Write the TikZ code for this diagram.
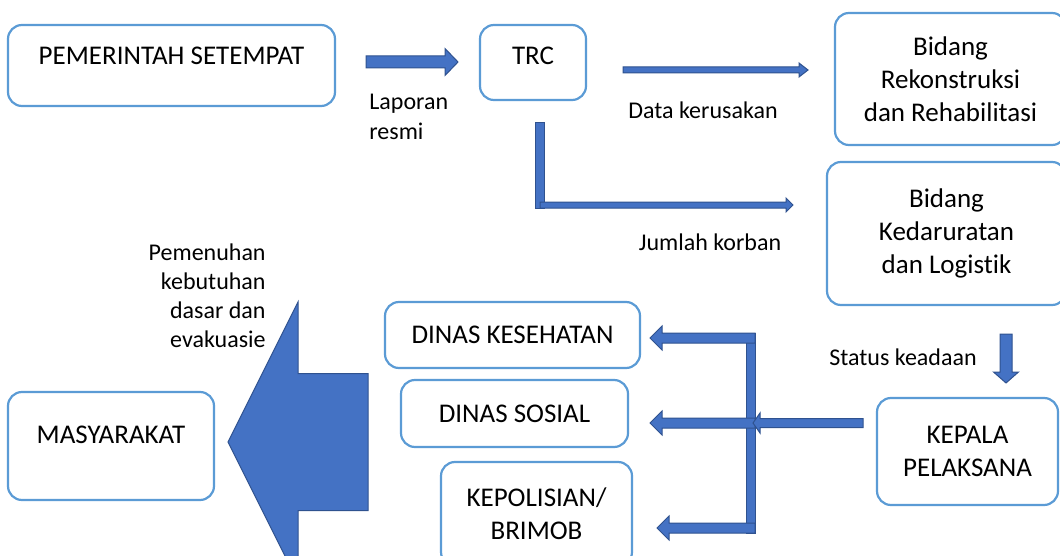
\documentclass[tikz,border=0pt]{standalone}
\usepackage{fontspec}
\setmainfont{Carlito}[Ligatures=CommonOff]
\usetikzlibrary{calc,positioning}
\definecolor{boxline}{HTML}{5B9BD5}
\definecolor{arrfill}{HTML}{4472C4}
\definecolor{arrline}{HTML}{2F528F}
\tikzset{
    unit/.style={draw=boxline, line width=1.1pt, rounded corners=7pt, align=center, inner sep=2pt,
        font=\fontsize{13.5}{16.5}\selectfont},
    blk/.style={draw=arrline, fill=arrfill, line width=0.5pt, line join=miter},
    lbl/.style={align=center, inner sep=0pt}
}
% block arrow: start, tip, half shaft, half head, head length
\newcommand{\blkarrow}[5]{%
    \coordinate (hb) at ($(#2)!#5!(#1)$);
    \draw[blk] ($(#1)!#3!90:(#2)$) -- ($(hb)!#3!90:(#2)$) -- ($(hb)!#4!90:(#2)$) -- (#2)
        -- ($(hb)!#4!-90:(#2)$) -- ($(hb)!#3!-90:(#2)$) -- ($(#1)!#3!-90:(#2)$) -- cycle;
}

\begin{document}
\begin{tikzpicture}[x=0.5pt, y=-0.5pt, font=\fontsize{12}{15}\selectfont]
    \useasboundingbox (0,0) rectangle (1060,556);

    \node[unit, minimum width=163.5pt, minimum height=40.5pt, text depth=9.5pt] (pem) at (171.5,65.5) {PEMERINTAH SETEMPAT};
    \node[unit, minimum width=53pt, minimum height=37.5pt, text depth=7pt] (trc) at (533,62.5) {TRC};
    \node[unit, minimum width=115.5pt, minimum height=66pt] (rek) at (950.5,79) {Bidang\\Rekonstruksi\\dan Rehabilitasi};
    \node[unit, minimum width=119.5pt, minimum height=71.5pt] (kdr) at (946.5,233.5) {Bidang\\Kedaruratan\\dan Logistik};
    \node[unit, minimum width=90.5pt, minimum height=53.5pt] (kep) at (967.5,451.5) {KEPALA\\PELAKSANA};
    \node[unit, minimum width=127.5pt, minimum height=33pt] (kes) at (512.5,335) {DINAS KESEHATAN};
    \node[unit, minimum width=113.5pt, minimum height=33.5pt] (sos) at (514.5,413.5) {DINAS SOSIAL};
    \node[unit, minimum width=95.5pt, minimum height=52pt] (pol) at (536.5,514) {KEPOLISIAN/\\BRIMOB};
    \node[unit, minimum width=103pt, minimum height=54pt, text depth=11pt] (mas) at (111,446) {MASYARAKAT};

    \node[lbl, anchor=west, align=left] (lap) at (369,117) {Laporan\\resmi};
    \node[lbl] (dk) at (703,110) {Data kerusakan};
    \node[lbl] (jk) at (710,242) {Jumlah korban};
    \node[lbl] (sk) at (903,357) {Status keadaan};
    \node[lbl, anchor=east, align=right, font=\fontsize{12}{14.5}\selectfont] (pmn) at (266,296) {Pemenuhan\\kebutuhan\\dasar dan\\evakuasie};

    % arrows along the top
    \coordinate (lr1) at (366,62);
    \coordinate (lr2) at (458,62);
    \blkarrow{lr1}{lr2}{3pt}{6.75pt}{6.5pt}
    \coordinate (dk1) at (623,70);
    \coordinate (dk2) at (808,70);
    \blkarrow{dk1}{dk2}{1.5pt}{3.5pt}{4.5pt}
    \draw[blk] (535,123) rectangle (544,208);
    \coordinate (jk1) at (540,205);
    \coordinate (jk2) at (793,205);
    \blkarrow{jk1}{jk2}{1.5pt}{3.5pt}{3.5pt}
    \coordinate (sk1) at (1006,334);
    \coordinate (sk2) at (1006,383);
    \blkarrow{sk1}{sk2}{3pt}{6.25pt}{5.5pt}

    % distribution from KEPALA PELAKSANA
    \draw[blk] (746,333) rectangle (755,533);
    \coordinate (d0) at (755,338);
    \coordinate (d1) at (650,338);
    \blkarrow{d0}{d1}{2.5pt}{6pt}{6pt}
    \coordinate (d2) at (755,423);
    \coordinate (d3) at (650,423);
    \blkarrow{d2}{d3}{2.5pt}{6pt}{6pt}
    \coordinate (d4) at (755,528);
    \coordinate (d5) at (657,528);
    \blkarrow{d4}{d5}{2.5pt}{6pt}{6pt}
    \coordinate (in1) at (863,423);
    \coordinate (in2) at (753,423);
    \blkarrow{in1}{in2}{2.25pt}{5pt}{3.5pt}

    % big arrow to MASYARAKAT
    \coordinate (m1) at (368,442);
    \coordinate (m2) at (228,442);
    \blkarrow{m1}{m2}{34.25pt}{70pt}{35pt}
\end{tikzpicture}
\end{document}
